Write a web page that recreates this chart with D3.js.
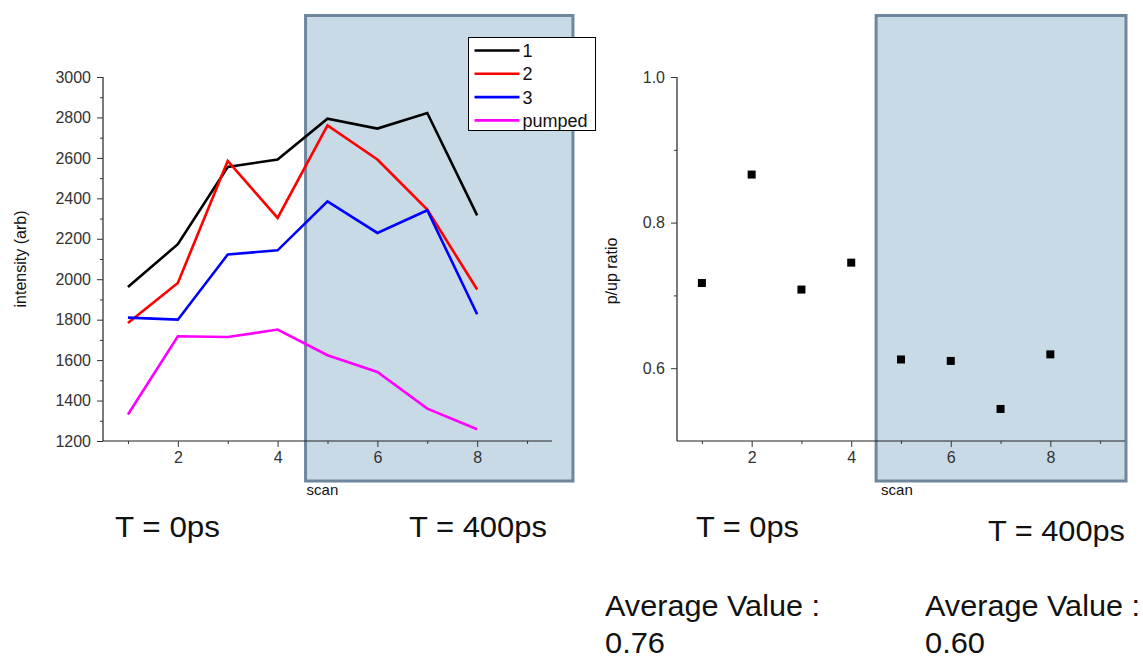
<!DOCTYPE html>
<html>
<head>
<meta charset="utf-8">
<script src="https://cdn.jsdelivr.net/npm/d3@7"></script>
<style>
  html, body { margin: 0; padding: 0; background: #fff; }
  svg { display: block; }
  .tick text { font-family: "Liberation Sans", Arial, sans-serif; fill: #333; }
</style>
</head>
<body>
<svg id="chart" width="1143" height="671"></svg>
<script>
// ---- data ----
const scans = [1, 2, 3, 4, 5, 6, 7, 8];
const series1 = [1962, 2173, 2555, 2592, 2794, 2745, 2822, 2316];
const series2 = [1784, 1981, 2585, 2303, 2761, 2592, 2344, 1949];
const series3 = [1810, 1800, 2122, 2143, 2385, 2229, 2341, 1827];
const pumped  = [1331, 1718, 1714, 1751, 1624, 1541, 1360, 1258];
const seriesNames = ["1", "2", "3", "pumped"];
const seriesColors = ["#000000", "#ff0000", "#0000ff", "#ff00ff"];
const ratio = [0.717, 0.866, 0.708, 0.745, 0.612, 0.610, 0.544, 0.619];

const intensityTicks = [1200, 1400, 1600, 1800, 2000, 2200, 2400, 2600, 2800, 3000];
const ratioTicks = [0.6, 0.8, 1.0];
const scanTicks = [2, 4, 6, 8];

const svg = d3.select("#chart");
const FONT = '"Liberation Sans", Arial, sans-serif';

// ---- layout ----
const left = { x0: 103, x1: 552, yTop: 77, yBot: 441 };
const right = { x0: 677, x1: 1125, yTop: 77, yBot: 441 };

const xL = d3.scaleLinear().domain([0.5, 9.5]).range([left.x0, left.x1]);
const yL = d3.scaleLinear().domain([1200, 3000]).range([left.yBot, left.yTop]);
const xR = d3.scaleLinear().domain([0.5, 9.5]).range([right.x0, right.x1]);
const yR = d3.scaleLinear().domain([0.5, 1.0]).range([right.yBot, right.yTop]);

// shaded "T = 400ps" regions (in scan units)
const shadeL = [4.56, 9.92];
const shadeR = [4.5, 9.52];
const shadeTop = 15.5, shadeBot = 481;

function shade(x, range) {
  svg.append("rect")
    .attr("x", x(range[0])).attr("y", shadeTop)
    .attr("width", x(range[1]) - x(range[0]))
    .attr("height", shadeBot - shadeTop)
    .attr("fill", "#c9dae7")
    .attr("stroke", "#6f879d")
    .attr("stroke-width", 3);
}
shade(xL, shadeL);
shade(xR, shadeR);

// ---- axes ----
function drawAxes(x, y, box, yMajor, yMinor, yFmt) {
  // bottom axis
  const gx = svg.append("g").attr("transform", `translate(0,${box.yBot})`);
  gx.append("line").attr("x1", box.x0).attr("x2", box.x1)
    .attr("stroke", "#222").attr("stroke-width", 1.2);
  gx.call(d3.axisBottom(x).tickValues([1, 3, 5, 7, 9]).tickSize(3).tickFormat(""))
    .call(g => g.select(".domain").remove())
    .call(g => g.selectAll(".tick line").attr("stroke", "#333"));
  const gx2 = svg.append("g").attr("transform", `translate(0,${box.yBot})`);
  gx2.call(d3.axisBottom(x).tickValues(scanTicks).tickSize(6).tickPadding(5).tickFormat(d3.format("d")))
    .call(g => g.select(".domain").remove())
    .call(g => g.selectAll(".tick line").attr("stroke", "#333"))
    .call(g => g.selectAll(".tick text").attr("font-size", 16).style("font-family", FONT).attr("fill", "#333"));

  // left axis
  const gy = svg.append("g").attr("transform", `translate(${box.x0},0)`);
  gy.append("line").attr("y1", box.yTop).attr("y2", box.yBot)
    .attr("stroke", "#222").attr("stroke-width", 1.2);
  gy.call(d3.axisLeft(y).tickValues(yMinor).tickSize(3).tickFormat(""))
    .call(g => g.select(".domain").remove())
    .call(g => g.selectAll(".tick line").attr("stroke", "#333"));
  const gy2 = svg.append("g").attr("transform", `translate(${box.x0},0)`);
  gy2.call(d3.axisLeft(y).tickValues(yMajor).tickSize(6).tickPadding(6).tickFormat(yFmt))
    .call(g => g.select(".domain").remove())
    .call(g => g.selectAll(".tick line").attr("stroke", "#333"))
    .call(g => g.selectAll(".tick text").attr("font-size", 16).style("font-family", FONT).attr("fill", "#333"));
}

const intensityMinor = d3.range(1300, 3000, 200);
drawAxes(xL, yL, left, intensityTicks, intensityMinor, d3.format("d"));
drawAxes(xR, yR, right, ratioTicks, [0.7, 0.9], d3.format(".1f"));

// axis titles
svg.append("text")
  .attr("transform", `translate(26,${(left.yTop + left.yBot) / 2}) rotate(-90)`)
  .attr("text-anchor", "middle")
  .attr("font-family", FONT).attr("font-size", 16).attr("fill", "#111")
  .text("intensity (arb)");
svg.append("text")
  .attr("transform", `translate(617,${(right.yTop + right.yBot) / 2 + 12}) rotate(-90)`)
  .attr("text-anchor", "middle")
  .attr("font-family", FONT).attr("font-size", 16).attr("fill", "#111")
  .text("p/up ratio");
svg.append("text").attr("x", xL(shadeL[0]) + 1).attr("y", 495)
  .attr("font-family", FONT).attr("font-size", 15).attr("fill", "#111").text("scan");
svg.append("text").attr("x", xR(shadeR[0]) + 5).attr("y", 495)
  .attr("font-family", FONT).attr("font-size", 15).attr("fill", "#111").text("scan");

// ---- intensity lines ----
const allSeries = [series1, series2, series3, pumped];
const line = d3.line().x((d, i) => xL(scans[i])).y(d => yL(d));
allSeries.forEach((vals, k) => {
  svg.append("path").datum(vals)
    .attr("d", line)
    .attr("fill", "none")
    .attr("stroke", seriesColors[k])
    .attr("stroke-width", 2.6)
    .attr("stroke-linejoin", "miter");
});

// ---- legend ----
const lg = svg.append("g").attr("transform", "translate(468.5,37.5)");
lg.append("rect").attr("width", 127).attr("height", 93)
  .attr("fill", "#fff").attr("stroke", "#000").attr("stroke-width", 1);
seriesNames.forEach((name, k) => {
  const yy = 13 + k * 23.3;
  lg.append("line").attr("x1", 6).attr("x2", 51).attr("y1", yy).attr("y2", yy)
    .attr("stroke", seriesColors[k]).attr("stroke-width", 2.6);
  lg.append("text").attr("x", 54).attr("y", yy + 6.5)
    .attr("font-family", FONT).attr("font-size", 18).attr("fill", "#111").text(name);
});

// ---- ratio markers ----
svg.append("g").selectAll("rect").data(ratio).join("rect")
  .attr("x", (d, i) => xR(scans[i]) - 4)
  .attr("y", d => yR(d) - 4)
  .attr("width", 8).attr("height", 8)
  .attr("fill", "#000");

// ---- annotations ----
const notes = [
  { t: "T = 0ps", x: 115, y: 537, w: 105 },
  { t: "T = 400ps", x: 409, y: 537, w: 138 },
  { t: "T = 0ps", x: 696, y: 537, w: 103 },
  { t: "T = 400ps", x: 988, y: 541, w: 137 },
  { t: "Average Value :", x: 605, y: 616, w: 215 },
  { t: "0.76", x: 605, y: 653, w: 60 },
  { t: "Average Value :", x: 925, y: 616, w: 215 },
  { t: "0.60", x: 925, y: 653, w: 60 }
];
svg.append("g").selectAll("text").data(notes).join("text")
  .attr("x", d => d.x).attr("y", d => d.y)
  .attr("font-family", FONT).attr("font-size", 30).attr("fill", "#111")
  .attr("textLength", d => d.w).attr("lengthAdjust", "spacingAndGlyphs")
  .text(d => d.t);
</script>
</body>
</html>
